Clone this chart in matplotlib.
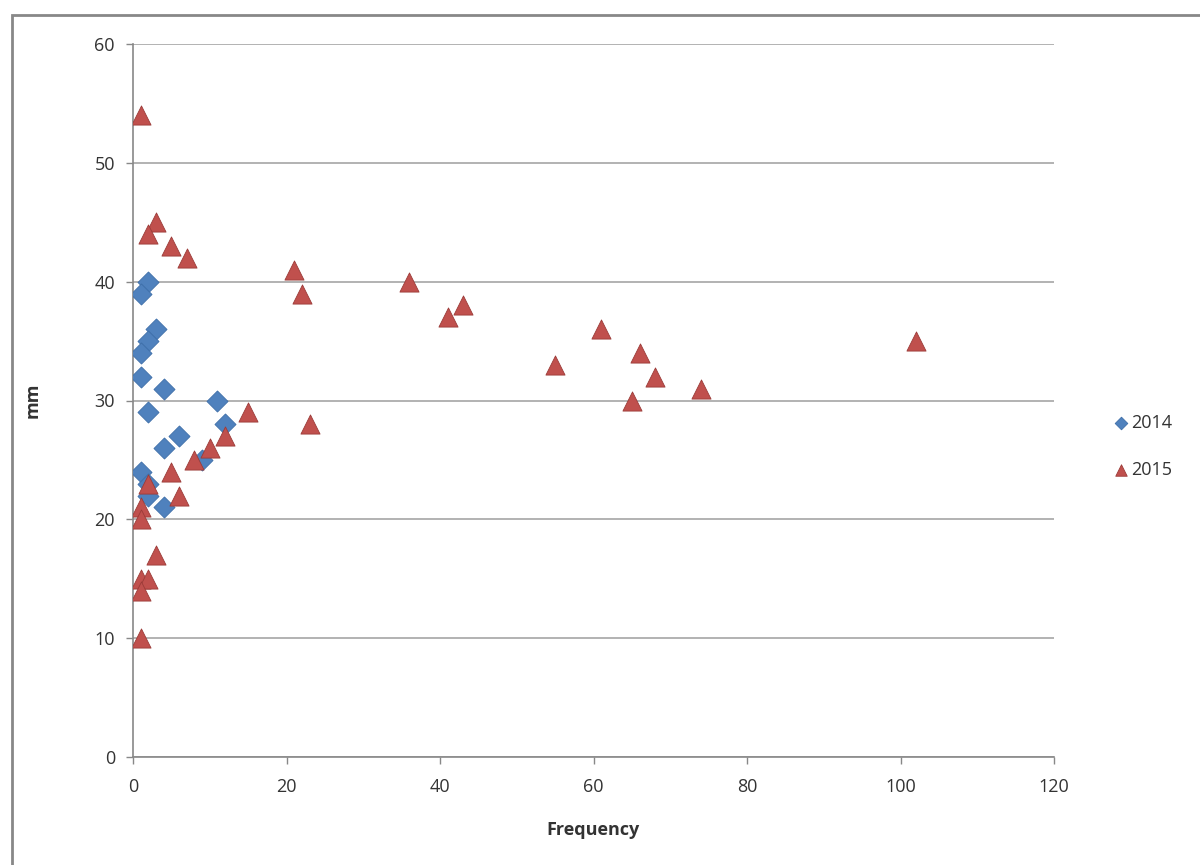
import matplotlib
matplotlib.use("Agg")
import matplotlib.pyplot as plt
from matplotlib.patches import Rectangle

# Frequency (x) and size in mm (y) for each year
freq_2014 = [2, 1, 3, 2, 1, 1, 4, 2, 11, 12, 6, 4, 9, 1, 2, 2, 4]
mm_2014 = [40, 39, 36, 35, 34, 32, 31, 29, 30, 28, 27, 26, 25, 24, 23, 22, 21]

freq_2015 = [1, 3, 2, 5, 7, 21, 22, 36, 41, 43, 55, 61, 66, 65, 68, 74, 102,
             15, 23, 12, 10, 8, 5, 6, 2, 1, 1, 3, 1, 2, 1, 1]
mm_2015 = [54, 45, 44, 43, 42, 41, 39, 40, 37, 38, 33, 36, 34, 30, 32, 31, 35,
           29, 28, 27, 26, 25, 24, 22, 23, 21, 20, 17, 15, 15, 14, 10]

x_ticks = [0, 20, 40, 60, 80, 100, 120]
y_ticks = [0, 10, 20, 30, 40, 50, 60]

plt.rcParams['font.family'] = ['Open Sans', 'DejaVu Sans']

fig = plt.figure(figsize=(12, 8.65), dpi=100)
ax = fig.add_axes([133 / 1200, 1 - 757 / 865, (1054 - 133) / 1200, (757 - 44) / 865])

# outer chart frame
fig.patches.append(Rectangle((12 / 1200, -0.1), 1.2, 1 - 15 / 865 + 0.1,
                             transform=fig.transFigure, fill=False,
                             edgecolor='#888888', linewidth=2.0))

ax.scatter(freq_2014, mm_2014, marker='D', s=115, color='#4F81BD',
           edgecolors='#3D6EA8', linewidths=0.6, label='2014', zorder=3)
ax.scatter(freq_2015, mm_2015, marker='^', s=190, color='#C0504D',
           edgecolors='#9B3B38', linewidths=0.6, label='2015', zorder=4)

ax.set_xlim(0, 120)
ax.set_ylim(0, 60)
ax.set_xticks(x_ticks)
ax.set_yticks(y_ticks)
ax.tick_params(axis='both', labelsize=13, colors='#888888', labelcolor='#333333',
               length=5, width=1)
ax.tick_params(axis='x', pad=10)
ax.tick_params(axis='y', pad=8)

ax.yaxis.grid(True, color='#A6A6A6', linewidth=1.2)
ax.set_axisbelow(True)
for side in ['top', 'right']:
    ax.spines[side].set_visible(False)
for side in ['left', 'bottom']:
    ax.spines[side].set_color('#888888')
    ax.spines[side].set_linewidth(1.2)

ax.set_xlabel('Frequency', fontsize=13, fontweight='bold', color='#333333', labelpad=18)
ax.set_ylabel('mm', fontsize=13, fontweight='bold', color='#333333', labelpad=38)

leg = ax.legend(loc='center left', bbox_to_anchor=(1.055, 0.436), frameon=False,
                fontsize=13, handletextpad=0.05, labelspacing=1.6,
                markerscale=0.6, handlelength=1.0, borderaxespad=0)
for t in leg.get_texts():
    t.set_color('#333333')

fig.savefig('out.png', dpi=100, facecolor='white')
